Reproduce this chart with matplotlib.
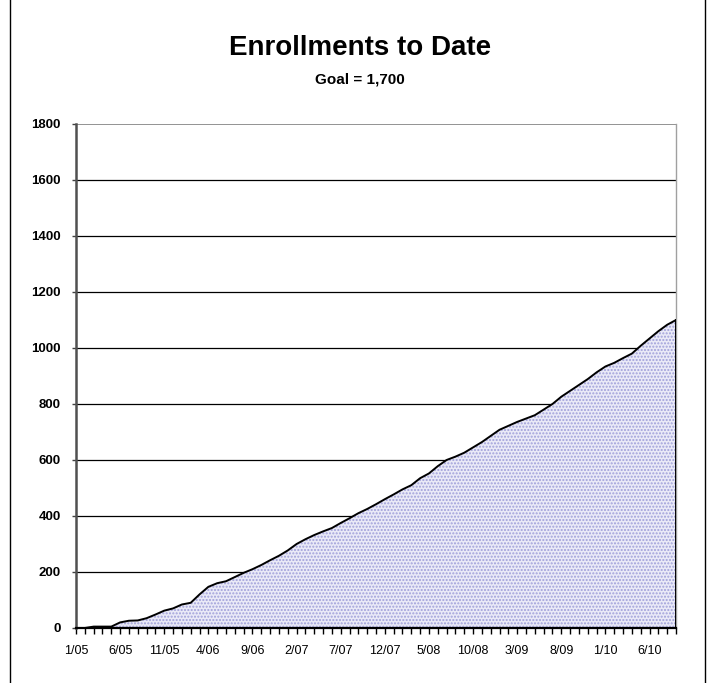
import matplotlib
matplotlib.use("Agg")
import matplotlib.pyplot as plt
from matplotlib.lines import Line2D
import numpy as np

plt.rcParams['font.family'] = ['Liberation Sans', 'DejaVu Sans']
plt.rcParams['hatch.linewidth'] = 1.0

title = "Enrollments to Date"
subtitle = "Goal = 1,700"

# monthly cumulative enrollments, 1/05 .. 9/10
enrollments = [0, 0, 5, 5, 5, 20, 26, 27, 35, 48,
               62, 70, 84, 90, 120, 147, 160, 167, 182, 197,
               210, 225, 242, 258, 277, 300, 317, 332, 345, 357,
               375, 392, 410, 425, 442, 460, 477, 495, 510, 535,
               552, 578, 600, 612, 626, 645, 664, 686, 708, 722,
               736, 748, 760, 780, 800, 826, 847, 868, 889, 913,
               934, 947, 964, 980, 1008, 1034, 1060, 1083, 1100]
months = []
for k in range(len(enrollments)):
    m = k % 12 + 1
    y = 5 + k // 12
    months.append(f"{m}/{y:02d}")
tick_step = 5
y_ticks = [0, 200, 400, 600, 800, 1000, 1200, 1400, 1600, 1800]

fig = plt.figure(figsize=(7.13, 6.83), dpi=100)
ax = fig.add_axes([76/713, 1-628/683, 600/713, 504/683])

x = np.arange(len(enrollments))
ax.fill_between(x, enrollments, 0, facecolor='#eaeaf7', edgecolor='#a0a0da',
                hatch='.....', linewidth=0, zorder=2)
ax.plot(x, enrollments, color='black', lw=1.4, zorder=3)
ax.plot([x[-1], x[-1]], [0, enrollments[-1]], color='black', lw=1.4, zorder=3)

ax.set_xlim(0, len(enrollments) - 1)
ax.set_ylim(0, 1800)
ax.set_yticks(y_ticks)
ax.set_yticklabels([str(v) for v in y_ticks], fontsize=9.5, fontweight='bold')
ax.set_xticks(x, minor=True)
ax.set_xticks(x[::tick_step])
ax.set_xticklabels(months[::tick_step], fontsize=9)
ax.tick_params(axis='x', which='both', direction='out', length=4, width=1, color='black', pad=8)
ax.tick_params(axis='y', direction='out', length=3, width=1, color='#404040', pad=8)

for v in y_ticks[1:-1]:
    ax.axhline(v, color='black', lw=0.9, zorder=1)
ax.axhline(1800, color='#808080', lw=1.2, zorder=1)

for s in ['top', 'right']:
    ax.spines[s].set_visible(False)
ax.spines['left'].set_color('#505050')
ax.spines['left'].set_linewidth(1.8)
ax.spines['bottom'].set_color('black')
ax.spines['bottom'].set_linewidth(1.6)
ax.spines['bottom'].set_zorder(4)
ax.plot([1, 1], [0, 1], transform=ax.transAxes, color='#a0a0a0', lw=1.0, clip_on=False, zorder=1)

fig.text(360/713, 1-48/683, title, ha='center', va='center', fontsize=20, fontweight='bold')
fig.text(360/713, 1-80/683, subtitle, ha='center', va='center', fontsize=11, fontweight='bold')

fig.add_artist(Line2D([10/713, 10/713], [0, 1], color='black', lw=1.0))
fig.add_artist(Line2D([705/713, 705/713], [0, 1], color='black', lw=1.0))

fig.savefig("out.png", dpi=100)
